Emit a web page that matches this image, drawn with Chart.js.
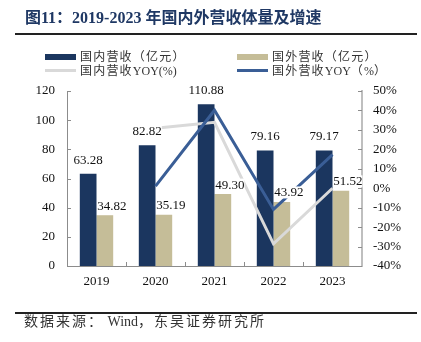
<!DOCTYPE html>
<html>
<head>
<meta charset="utf-8">
<script src="https://cdn.jsdelivr.net/npm/chart.js@4/dist/chart.umd.min.js"></script>
<style>
  html, body { margin: 0; padding: 0; background: #fff; }
  #wrap { position: relative; width: 421px; height: 342px; overflow: hidden; font-family: "Liberation Serif", "Noto Sans CJK SC", serif; }
  #title { position: absolute; left: 25px; top: 7px; font-size: 16px; font-weight: bold; color: #1F3864; white-space: nowrap; line-height: 22px; }
  .rule { position: absolute; left: 15px; width: 402px; background: #222; }
  #source { position: absolute; left: 24px; top: 313px; font-size: 14px; color: #333; white-space: nowrap; line-height: 18px; }
  #source .cn { letter-spacing: 2px; }
  .lg { position: absolute; font-size: 12px; color: #333; white-space: nowrap; line-height: 14px; }
  .lg .cn { letter-spacing: 1.2px; }
  .sw { position: absolute; }
  canvas { position: absolute; left: 0; top: 0; }
</style>
</head>
<body>
<div id="wrap">
  <canvas id="chart" width="421" height="342"></canvas>
  <div id="title">图11：2019-2023 年国内外营收体量及增速</div>
  <div class="rule" style="top:33px;height:2px;"></div>
  <div class="rule" style="top:312px;height:1.5px;"></div>
  <div id="source"><span class="cn">数据来源：</span> Wind<span class="cn">，东吴证券研究所</span></div>
  <div id="legend"></div>
</div>
<script>
const years = ['2019', '2020', '2021', '2022', '2023'];
const domestic = [63.28, 82.82, 110.88, 79.16, 79.17];
const overseas = [34.82, 35.19, 49.30, 43.92, 51.52];
const domesticYoy = [null, 30.9, 33.9, -28.6, 0.0];
const overseasYoy = [null, 1.1, 40.1, -10.9, 17.3];
const seriesNames = ['国内营收（亿元）', '国外营收（亿元）', '国内营收YOY(%)', '国外营收YOY（%）'];

const navy = '#1B365F'
const tan = '#C5BD98'
const blue = '#3A5E96'
const gray = '#D9D9D9'
const font = '"Liberation Serif", "Noto Sans CJK SC", serif'

// legend in two columns, like the original
const legendItems = [
  { name: seriesNames[0], color: navy, x: 45, y: 57, h: 6 },
  { name: seriesNames[1], color: tan, x: 237, y: 57, h: 6 },
  { name: seriesNames[2], color: gray, x: 45, y: 70.5, h: 3 },
  { name: seriesNames[3], color: blue, x: 237, y: 70.5, h: 3 }
]
const legendEl = document.getElementById('legend')
legendItems.forEach(it => {
  const sw = document.createElement('div')
  sw.className = 'sw'
  sw.style.cssText = `left:${it.x}px;top:${it.y - it.h / 2}px;width:31px;height:${it.h}px;background:${it.color}`
  legendEl.appendChild(sw)
  const t = document.createElement('div')
  t.className = 'lg'
  t.style.cssText = `left:${it.x + 35}px;top:${it.y - 7}px`
  // space out the chinese part only, latin stays tight
  t.innerHTML = it.name.replace(/([\u3000-\u9fff\uff00-\uffef]+)/g, '<span class="cn">$1</span>')
  legendEl.appendChild(t)
})

// value labels with white background (they hide the lines behind them)
const barLabels = {
  id: 'barLabels',
  afterDatasetsDraw(chart) {
    const ctx = chart.ctx
    ctx.save()
    ctx.font = '13px ' + font
    ctx.textAlign = 'center'
    ctx.textBaseline = 'middle'
    chart.data.datasets.forEach((ds, di) => {
      if (ds.type !== 'bar') return
      const meta = chart.getDatasetMeta(di)
      const dx = di === 3 ? 7 : 0
      const dy = di === 3 ? 9.5 : 14
      meta.data.forEach((el, i) => {
        const txt = ds.data[i].toFixed(2)
        const x = el.x + dx, y = el.y - dy
        const w = ctx.measureText(txt).width
        ctx.fillStyle = '#fff'
        ctx.fillRect(x - w / 2, y - 6, w, 12)
        ctx.fillStyle = '#111'
        ctx.fillText(txt, x, y + 0.5)
      })
    })
    ctx.restore()
  }
}

// small tick marks pointing into the plot
const innerTicks = {
  id: 'innerTicks',
  afterDraw(chart) {
    const ctx = chart.ctx
    const a = chart.chartArea
    ctx.save()
    ctx.strokeStyle = '#8C8C8C'
    ctx.lineWidth = 1
    ctx.beginPath()
    const yl = chart.scales.y
    yl.ticks.forEach(t => {
      const py = Math.round(yl.getPixelForValue(t.value)) + 0.5
      ctx.moveTo(a.left, py); ctx.lineTo(a.left + 4, py)
    })
    const yr = chart.scales.y1
    yr.ticks.forEach(t => {
      const py = Math.round(yr.getPixelForValue(t.value)) + 0.5
      ctx.moveTo(a.right - 4, py); ctx.lineTo(a.right, py)
    })
    const step = (a.right - a.left) / years.length
    for (let i = 1; i < years.length; i++) {
      const px = Math.round(a.left + i * step) + 0.5
      ctx.moveTo(px, a.bottom); ctx.lineTo(px, a.bottom - 4)
    }
    ctx.stroke()
    ctx.restore()
  }
}

Chart.defaults.font.family = font
Chart.defaults.font.size = 13
Chart.defaults.color = '#111'

new Chart(document.getElementById('chart'), {
  data: {
    labels: years,
    datasets: [
      { type: 'line', label: seriesNames[3], data: overseasYoy, yAxisID: 'y1', borderColor: blue, borderWidth: 3, pointRadius: 0, order: 0 },
      { type: 'line', label: seriesNames[2], data: domesticYoy, yAxisID: 'y1', borderColor: gray, borderWidth: 3, pointRadius: 0, order: 1 },
      { type: 'bar', label: seriesNames[0], data: domestic, yAxisID: 'y', backgroundColor: navy, order: 2, categoryPercentage: 0.566, barPercentage: 1 },
      { type: 'bar', label: seriesNames[1], data: overseas, yAxisID: 'y', backgroundColor: tan, order: 2, categoryPercentage: 0.566, barPercentage: 1 }
    ]
  },
  options: {
    responsive: false,
    animation: false,
    layout: { padding: { left: 0, right: 0, top: 91, bottom: 46 } },
    plugins: { legend: { display: false }, tooltip: { enabled: false } },
    scales: {
      x: {
        offset: true,
        grid: { display: false, drawTicks: false },
        border: { color: '#8C8C8C', width: 1 },
        ticks: { padding: 8 },
        afterFit: s => { s.height = 30 }
      },
      y: {
        position: 'left',
        min: 0, max: 120,
        grid: { display: false, drawTicks: false },
        border: { color: '#8C8C8C', width: 1 },
        ticks: { stepSize: 20, padding: 12 },
        afterFit: s => { s.width = 67 }
      },
      y1: {
        position: 'right',
        min: -40, max: 50,
        grid: { display: false, drawTicks: false },
        border: { color: '#BFBFBF', width: 2 },
        ticks: { stepSize: 10, padding: 11, callback: v => v + '%' },
        afterFit: s => { s.width = 59 }
      }
    }
  },
  plugins: [barLabels, innerTicks]
})
</script>
</body>
</html>
